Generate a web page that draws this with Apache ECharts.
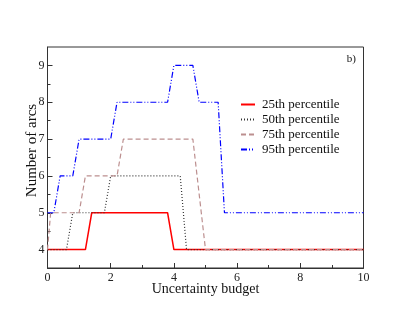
<!DOCTYPE html>
<html><head><meta charset="utf-8">
<script src="https://cdn.jsdelivr.net/npm/echarts@6/dist/echarts.min.js"></script>
<style>html,body{margin:0;padding:0;background:#fff}#c{width:409px;height:316px}</style>
</head><body><div id="c"></div>
<script>
const seriesNames = ['25th percentile','50th percentile','75th percentile','95th percentile'];
const x25 = [0, 1.2, 1.4, 3.8, 4.0, 10];
const y25 = [4, 4, 5, 5, 4, 4];
const x50 = [0, 0.6, 0.8, 1.8, 2.0, 4.2, 4.4, 10];
const y50 = [4, 4, 5, 5, 6, 6, 4, 4];
const x75 = [0, 0.1, 1.0, 1.2, 2.2, 2.4, 4.6, 5.0, 10];
const y75 = [4, 5, 5, 6, 6, 7, 7, 4, 4];
const x95 = [0, 0.2, 0.4, 0.8, 1.0, 2.0, 2.2, 3.8, 4.0, 4.6, 4.8, 5.4, 5.6, 10];
const y95 = [5, 5, 6, 6, 7, 7, 8, 8, 9, 9, 8, 8, 5, 5];
const xTicks = [0, 2, 4, 6, 8, 10];
const yTicks = [4, 5, 6, 7, 8, 9];
const yMinorTicks = [4.5, 5.5, 6.5, 7.5, 8.5];

const font = 'Liberation Serif';
const pairs = (xs, ys) => xs.map((x, i) => [x, ys[i]]);
const styles = [
  {color: '#ff0000', type: 'solid'},
  {color: '#333333', type: [1, 2]},
  {color: '#bc8f8f', type: [5, 3]},
  {color: '#0000ff', type: [6, 2, 1, 2, 1, 2]}
];
const datas = [pairs(x25, y25), pairs(x50, y50), pairs(x75, y75), pairs(x95, y95)];
const axisCommon = {
  axisLine: {show: true, lineStyle: {color: '#333', width: 1}},
  axisTick: {show: true, inside: true, length: 5, lineStyle: {color: '#333'}},
  minorTick: {show: true, splitNumber: 2, length: 3, lineStyle: {color: '#333'}},
  splitLine: {show: false},
  axisLabel: {fontFamily: font, fontSize: 12, color: '#222'},
  nameTextStyle: {fontFamily: font, fontSize: 14, color: '#111'},
  nameMoveOverlap: false
};
const chart = echarts.init(document.getElementById('c'), null, {renderer: 'canvas'});
chart.setOption({
  animation: false,
  backgroundColor: '#fff',
  grid: {left: 47.5, right: 45.5, top: 47, bottom: 48, show: true, borderColor: '#333', borderWidth: 1, backgroundColor: 'transparent'},
  title: {text: 'b)', right: 48, top: 49, textStyle: {fontFamily: font, fontSize: 11, fontWeight: 'normal', color: '#111'}},
  legend: {
    orient: 'vertical', left: 235, top: 93, itemGap: 2, itemWidth: 14, itemHeight: 10,
    itemStyle: {opacity: 0},
    textStyle: {fontFamily: font, fontSize: 13, color: '#111', padding: [0, 0, 0, 2]},
    data: seriesNames
  },
  xAxis: Object.assign({}, axisCommon, {
    type: 'value', min: 0, max: 10, interval: 2,
    name: 'Uncertainty budget', nameLocation: 'middle', nameGap: 14,
    axisLabel: Object.assign({}, axisCommon.axisLabel, {margin: 4, customValues: xTicks})
  }),
  yAxis: [
    Object.assign({}, axisCommon, {
      type: 'value', min: 3.5, max: 9.5, interval: 1,
      name: 'Number of arcs', nameLocation: 'middle', nameGap: 8,
      nameTextStyle: {fontFamily: font, fontSize: 15, color: '#111', padding: [0, 0, 0, 14]},
      axisTick: Object.assign({}, axisCommon.axisTick, {customValues: yTicks}),
      minorTick: {show: false},
      axisLabel: Object.assign({}, axisCommon.axisLabel, {margin: 3, customValues: yTicks})
    }),
    {
      type: 'value', min: 3.5, max: 9.5, position: 'left', offset: 0,
      axisLine: {show: false}, axisLabel: {show: false}, splitLine: {show: false},
      axisTick: {show: true, inside: true, length: 3, customValues: yMinorTicks, lineStyle: {color: '#333'}}
    }
  ],
  series: seriesNames.map((n, i) => ({
    name: n, type: 'line', data: datas[i], symbol: 'none', showSymbol: false, yAxisIndex: 0,
    itemStyle: {color: styles[i].color},
    lineStyle: {color: styles[i].color, type: styles[i].type, width: i === 0 ? 1.5 : 1.2}
  }))
});
</script></body></html>
